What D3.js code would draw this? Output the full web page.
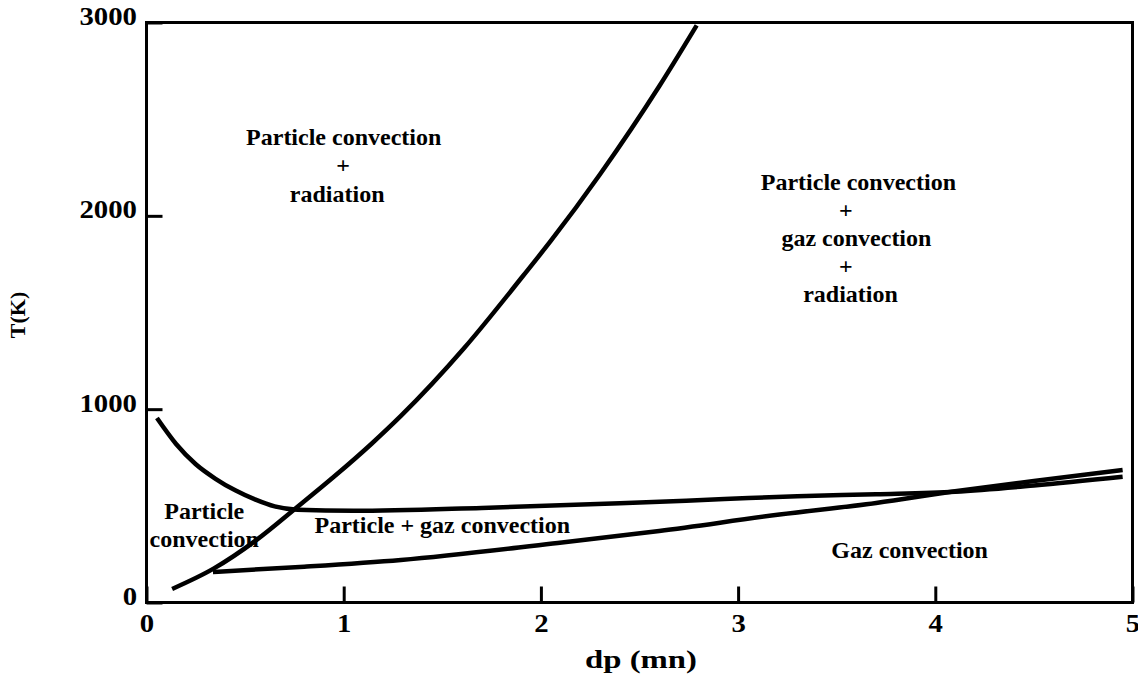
<!DOCTYPE html>
<html>
<head>
<meta charset="utf-8">
<script src="https://cdn.jsdelivr.net/npm/d3@7"></script>
<style>
  html, body { margin: 0; padding: 0; background: #fff; }
  svg { display: block; }
  text { font-family: "Liberation Serif", "DejaVu Serif", serif; font-weight: bold; fill: #000; }
</style>
</head>
<body>
<svg id="chart" width="1138" height="678"></svg>
<script>
// Axis ticks
const xTicks = [0, 1, 2, 3, 4, 5];
const yTicks = [0, 1000, 2000, 3000];

// Boundary between "particle convection" and "particle convection + radiation"
const radDp = [0.13, 0.34, 0.56, 0.76, 0.95, 1.14, 1.29, 1.61, 1.91, 2.05, 2.30, 2.60, 2.79];
const radT  = [70, 175, 325, 490, 650, 820, 965, 1315, 1690, 1870, 2215, 2670, 2985];

// Boundary where gas convection starts to matter (upper curve)
const partDp = [0.053, 0.15, 0.25, 0.35, 0.45, 0.55, 0.65, 0.765, 1.05, 1.7, 2.4, 2.93, 3.3, 3.7, 4.1, 4.5, 4.95];
const partT  = [954, 820, 715, 640, 580, 533, 497, 480, 474, 489, 513, 535, 550, 560, 573, 605, 650];

// Boundary below which gas convection dominates
const gasDp = [0.337, 0.8, 1.29, 2.06, 2.6, 3.21, 3.7, 4.1, 4.5, 4.95];
const gasT  = [158, 185, 220, 305, 370, 455, 515, 575, 628, 685];

// Region annotations: text, dp position, T of the baseline
const regionText = ["Particle convection", "+", "radiation",
                    "Particle convection", "+", "gaz convection", "+", "radiation",
                    "Particle", "convection", "Particle + gaz convection", "Gaz convection"];
const regionDp = [1.0, 0.997, 0.967, 3.61, 3.546, 3.60, 3.546, 3.57, 0.293, 0.293, 1.5, 3.87];
const regionT  = [2366, 2222, 2072, 2134, 1989, 1844, 1699, 1554, 432, 289, 358, 232];

const FONT = '"Liberation Serif", "DejaVu Serif", serif';

const svg = d3.select("#chart");
const W = 1138, H = 678;
svg.append("rect").attr("width", W).attr("height", H).attr("fill", "#fff");

const x = d3.scaleLinear().domain([0, 5]).range([146.5, 1132.5]);
const y = d3.scaleLinear().domain([0, 3000]).range([602.5, 22.5]);

// Plot frame
svg.append("rect")
  .attr("x", x(0)).attr("y", y(3000))
  .attr("width", x(5) - x(0)).attr("height", y(0) - y(3000))
  .attr("fill", "none").attr("stroke", "#000").attr("stroke-width", 3);

// Axes with inward ticks
const gx = svg.append("g").attr("transform", `translate(0,${y(0)})`)
  .call(d3.axisBottom(x).tickValues(xTicks).tickSize(-16).tickPadding(12).tickFormat(d3.format("d")));
const gy = svg.append("g").attr("transform", `translate(${x(0)},0)`)
  .call(d3.axisLeft(y).tickValues(yTicks).tickSize(-16).tickPadding(9.5).tickFormat(d3.format("d")));
[gx, gy].forEach(g => {
  g.select(".domain").remove();
  g.selectAll(".tick line").attr("stroke", "#000").attr("stroke-width", 3);
  g.selectAll(".tick text")
    .style("font-family", FONT)
    .style("font-weight", "bold").style("font-size", "25px").attr("fill", "#000")
    .each(function () {
      // the numerals are set slightly wide
      const w = this.getComputedTextLength();
      d3.select(this).attr("textLength", w * 1.15).attr("lengthAdjust", "spacingAndGlyphs");
    });
});
gy.selectAll(".tick text").attr("y", -6);

// Curves
const line = d3.line().x(d => x(d[0])).y(d => y(d[1])).curve(d3.curveMonotoneX);
const series = [d3.zip(radDp, radT), d3.zip(partDp, partT), d3.zip(gasDp, gasT)];
svg.append("g").selectAll("path").data(series).join("path")
  .attr("d", line)
  .attr("fill", "none").attr("stroke", "#000").attr("stroke-width", 4.5)
  .attr("stroke-linejoin", "round");

// Region labels
svg.append("g").selectAll("text").data(d3.range(regionText.length)).join("text")
  .attr("x", i => x(regionDp[i])).attr("y", i => y(regionT[i]))
  .attr("text-anchor", "middle").style("font-family", FONT).style("font-size", "24px")
  .text(i => regionText[i]);

// Axis titles
svg.append("text").attr("transform", "translate(25,315) rotate(-90)")
  .attr("text-anchor", "middle").style("font-family", FONT).style("font-size", "22px").text("T(K)");
svg.append("text").attr("x", 641).attr("y", 668)
  .attr("text-anchor", "middle").style("font-family", FONT).style("font-size", "26px")
  .attr("textLength", 112).attr("lengthAdjust", "spacingAndGlyphs")
  .text("dp (mn)");
</script>
</body>
</html>
